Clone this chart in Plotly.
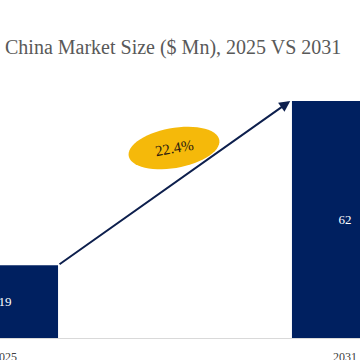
import numpy as np
import plotly.graph_objects as go

years = ["2025", "2031"]
values = [19, 62]
cagr_label = "22.4%"
title_text = "China Market Size ($ Mn), 2025 VS 2031"

W, H = 360, 360
ML, MR, MT, MB = 0, 0, 60, 22
plot_h = H - MT - MB
plot_w = W - ML - MR

bar_w = 0.312
xpos = list(range(len(years)))
x_range = [-0.0147, 1.0441]
y_range = [0, 72.7]

NAVY = "#002060"
GOLD = "#F5B90A"

fig = go.Figure()
fig.add_trace(go.Bar(
    x=xpos, y=values, width=bar_w,
    marker=dict(color=NAVY, line=dict(width=0)),
    text=[str(v) for v in values], textposition="inside",
    insidetextanchor="middle",
    textfont=dict(family="Liberation Serif", size=13, color="white"),
    hoverinfo="skip",
))

# arrow from top-right corner of first bar to top-left corner of second bar
fig.add_annotation(
    x=xpos[1] - bar_w / 2 - 0.005, y=values[1],
    ax=xpos[0] + bar_w / 2, ay=values[0],
    xref="x", yref="y", axref="x", ayref="y",
    showarrow=True, arrowhead=2, arrowsize=1.1, arrowwidth=2,
    arrowcolor="#0d1f4d", text="",
)

# rotated ellipse badge (paper coords)
cx_px, cy_px, a_px, b_px, ang = 174, 148, 46, 20, np.deg2rad(10)
t = np.linspace(0, 2 * np.pi, 60)
ex = a_px * np.cos(t)
ey = b_px * np.sin(t)
rx = ex * np.cos(ang) - ey * np.sin(ang)
ry = ex * np.sin(ang) + ey * np.cos(ang)
px = (cx_px + rx - ML) / plot_w
py = ((H - MB) - (cy_px - ry)) / plot_h
path = "M " + " L ".join(f"{a:.4f},{b:.4f}" for a, b in zip(px, py)) + " Z"
fig.add_shape(type="path", path=path, xref="paper", yref="paper",
              fillcolor=GOLD, line=dict(width=0), layer="above")
fig.add_annotation(
    x=(cx_px - ML) / plot_w, y=((H - MB) - cy_px) / plot_h,
    xref="paper", yref="paper", text=cagr_label, showarrow=False,
    xanchor="center", yanchor="middle",
    textangle=-10, font=dict(family="Liberation Serif", size=15, color="#2a1a10"),
)

fig.add_annotation(
    x=(3 - ML) / plot_w, y=((H - MB) - 47) / plot_h, xref="paper", yref="paper",
    yanchor="middle", xanchor="left", text=title_text, showarrow=False,
    font=dict(family="Liberation Serif", size=20, color="#595959"),
)

fig.update_layout(
    width=W, height=H, margin=dict(l=ML, r=MR, t=MT, b=MB, autoexpand=False),
    paper_bgcolor="white", plot_bgcolor="white", showlegend=False,
    xaxis=dict(range=x_range, tickvals=xpos, ticktext=years, showgrid=False,
               zeroline=False, showline=True, linecolor="#d9d9d9", linewidth=1,
               tickfont=dict(family="Liberation Serif", size=12, color="#404040"),
               ticks="", ticklabelstandoff=8, ticklabeloverflow="allow",
               fixedrange=True, automargin=False),
    yaxis=dict(range=y_range, visible=False, fixedrange=True, automargin=False),
)

fig.write_html("out.html", config={"displayModeBar": False},
               post_script="document.body.style.margin='0';")
